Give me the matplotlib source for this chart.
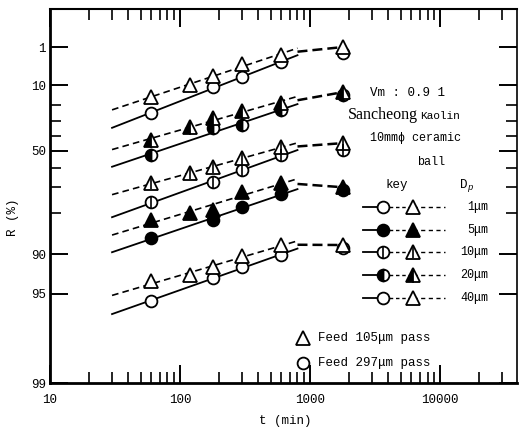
import numpy as np
import matplotlib.pyplot as plt

# ==========================
# DATA
# ==========================

t_tri = [60, 120, 180, 300, 600, 1800]
t_cir = [60, 180, 300, 600, 1800]

# feed 105um pass (triangles, dashed)
tri_40 = [15.7, 10.0, 6.6, 3.4, 1.9, 1.0]
tri_20 = [43.0, 34.3, 28.4, 23.9, 19.1, 13.2]
tri_10 = [68.1, 63.0, 59.7, 54.5, 47.6, 45.0]
tri_5 = [82.2, 80.0, 79.0, 72.1, 68.0, 70.0]
tri_1 = [93.8, 93.1, 92.0, 90.3, 88.3, 88.3]

# feed 297um pass (circles, solid)
cir_40 = [25.1, 10.9, 7.0, 3.0, 1.6]
cir_20 = [52.7, 35.0, 33.0, 23.3, 14.9]
cir_10 = [76.2, 67.6, 61.4, 52.7, 49.5]
cir_5 = [86.8, 82.2, 78.0, 73.0, 71.0]
cir_1 = [95.6, 93.4, 92.0, 90.2, 88.8]

dp_labels = ["1\u03bcm", "5\u03bcm", "10\u03bcm", "20\u03bcm", "40\u03bcm"]

y_ticks = [1, 10, 50, 90, 95, 99]
y_minor = [20, 30, 40, 60, 70, 80]
x_ticks = [10, 100, 1000, 10000]

MONO = "Liberation Mono"
SERIF = "Liberation Serif"


# Rosin-Rammler type axis
def fwd(r):
    r = np.clip(np.asarray(r, dtype=float), 1e-6, 99.99999)
    return -np.log(-np.log(r / 100.0))


def inv(g):
    return 100.0 * np.exp(-np.exp(-np.asarray(g, dtype=float)))


def P(px, py):
    return px / 520.0, 1 - py / 440.0


fig = plt.figure(figsize=(5.2, 4.4), dpi=100)
ax = fig.add_axes([50 / 520, 1 - 383 / 440, 467 / 520, 374 / 440])

ax.set_xscale("log")
ax.set_yscale("function", functions=(fwd, inv))
ax.set_xlim(10, 39000)
ax.set_ylim(99, 0.01)

# ==========================
# SERIES
# ==========================

groups = [
    (tri_40, cir_40, "open"),
    (tri_20, cir_20, "half"),
    (tri_10, cir_10, "vline"),
    (tri_5, cir_5, "full"),
    (tri_1, cir_1, "open"),
]

lt = np.log10(np.array(t_tri, dtype=float))
lc = np.log10(np.array(t_cir, dtype=float))
t_line = np.array([30.0, 800.0])


def marker_kw(kind, shape):
    ms = 9.5 if shape == "^" else 8.5
    kw = dict(marker=shape, ms=ms, mec="black", mew=1.3, ls="none", zorder=4)
    if kind == "full":
        kw.update(mfc="black")
    elif kind == "half":
        kw.update(mfc="black", fillstyle="left", markerfacecoloralt="white")
    else:
        kw.update(mfc="white")
    return kw


for tri, cir, kind in groups:
    tri = np.array(tri)
    cir = np.array(cir)
    pt = np.polyfit(lt[:5], fwd(tri[:5]), 1)
    pc = np.polyfit(lc[:4], fwd(cir[:4]), 1)
    ax.plot(t_line, inv(np.polyval(pt, np.log10(t_line))), color="black",
            lw=1.2, ls=(0, (4, 2.5)), zorder=2)
    ax.plot(t_line, inv(np.polyval(pc, np.log10(t_line))), color="black",
            lw=1.3, ls="-", zorder=2)
    g_end = 0.5 * (np.polyval(pt, np.log10(t_line[-1])) + np.polyval(pc, np.log10(t_line[-1])))
    ax.plot([t_line[-1], t_tri[-1]], [inv(g_end), tri[-1]], color="black",
            lw=1.8, ls=(0, (4, 2)), zorder=2)

    ax.plot(t_cir, cir, **marker_kw(kind, "o"))
    ax.plot(t_tri, tri, **marker_kw(kind, "^"))
    if kind == "vline":
        ax.plot(t_cir, cir, marker="|", ms=8.5, mew=1.2, color="black", ls="none", zorder=5)
        ax.plot(t_tri, tri, marker="|", ms=8, mew=1.2, color="black", ls="none", zorder=5)

# ==========================
# AXES STYLE
# ==========================

ax.set_yticks(y_ticks)
ax.set_yticklabels([str(v) for v in y_ticks], fontfamily=MONO, fontsize=9)
ax.set_yticks(y_minor, minor=True)
ax.set_yticklabels([], minor=True)

ax.set_xticks(x_ticks)
ax.set_xticklabels([str(v) for v in x_ticks], fontfamily=MONO, fontsize=9)
minors = [m * d for d in (10, 100, 1000, 10000) for m in range(2, 10)]
ax.set_xticks([m for m in minors if m < 39000], minor=True)
ax.set_xticklabels([], minor=True)

ax.tick_params(axis="both", which="major", direction="in", length=13, width=1.4,
               top=True, right=True)
ax.tick_params(axis="both", which="minor", direction="in", length=8, width=1.2,
               top=True, right=True)
ax.tick_params(axis="y", which="major", pad=3)
ax.tick_params(axis="x", which="major", pad=8)

for side, w in [("left", 2.0), ("bottom", 2.0), ("top", 1.5), ("right", 1.2)]:
    ax.spines[side].set_linewidth(w)

fig.text(*P(13, 217), "R (%)", rotation=90, ha="center", va="center",
         fontfamily=MONO, fontsize=9)
fig.text(*P(285, 421), "t (min)", ha="center", va="center",
         fontfamily=MONO, fontsize=9)

# ==========================
# ANNOTATIONS
# ==========================

fig.text(*P(370, 93), "Vm : 0.9 1", ha="left", va="center", fontfamily=MONO, fontsize=9)
fig.text(*P(348, 115), "Sancheong", ha="left", va="center", fontfamily=SERIF, fontsize=11.5)
fig.text(*P(420, 116), "Kaolin", ha="left", va="center", fontfamily=MONO, fontsize=8)
fig.text(*P(370, 138), "10mm\u03d5 ceramic", ha="left", va="center", fontfamily=MONO, fontsize=8.5)
fig.text(*P(417, 162), "ball", ha="left", va="center", fontfamily=MONO, fontsize=8.5)
fig.text(*P(397, 185), "key", ha="center", va="center", fontfamily=MONO, fontsize=9)
fig.text(*P(460, 185), "D", ha="left", va="center", fontfamily=MONO, fontsize=9)
fig.text(*P(467, 188), "p", ha="left", va="center", fontfamily=MONO, fontsize=6.5,
         style="italic")

key_kinds = ["open", "full", "vline", "half", "open"]
row_y = [207, 230, 252, 275, 298]
for kind, yy, lab in zip(key_kinds, row_y, dp_labels):
    y = P(0, yy)[1]
    fig.add_artist(plt.Line2D([P(363, 0)[0], P(383, 0)[0]], [y, y], color="black",
                              lw=1.3, transform=fig.transFigure))
    fig.add_artist(plt.Line2D([P(383, 0)[0], P(413, 0)[0]], [y, y], color="black",
                              lw=1.0, ls=(0, (2.5, 2)), transform=fig.transFigure))
    fig.add_artist(plt.Line2D([P(413, 0)[0], P(445, 0)[0]], [y, y], color="black",
                              lw=1.0, ls=(0, (3, 2.5)), transform=fig.transFigure))
    for xx, shape in [(383, "o"), (413, "^")]:
        kw = marker_kw(kind, shape)
        kw.pop("ls")
        kw["zorder"] = 5
        fig.add_artist(plt.Line2D([P(xx, 0)[0]], [y], transform=fig.transFigure, **kw))
        if kind == "vline":
            fig.add_artist(plt.Line2D([P(xx, 0)[0]], [y], marker="|", ms=8, mew=1.2,
                                      color="black", transform=fig.transFigure, zorder=6))
    fig.text(P(488, 0)[0], y, lab, ha="right", va="center", fontfamily=MONO, fontsize=8.5)

for yy, shape, lab in [(338, "^", "Feed 105\u03bcm pass"), (363, "o", "Feed 297\u03bcm pass")]:
    y = P(0, yy)[1]
    kw = marker_kw("open", shape)
    kw.pop("ls")
    fig.add_artist(plt.Line2D([P(303, 0)[0]], [y], transform=fig.transFigure, **kw))
    fig.text(P(318, 0)[0], y, lab, ha="left", va="center", fontfamily=MONO, fontsize=9)

plt.savefig("out.png", dpi=100)
plt.close()
